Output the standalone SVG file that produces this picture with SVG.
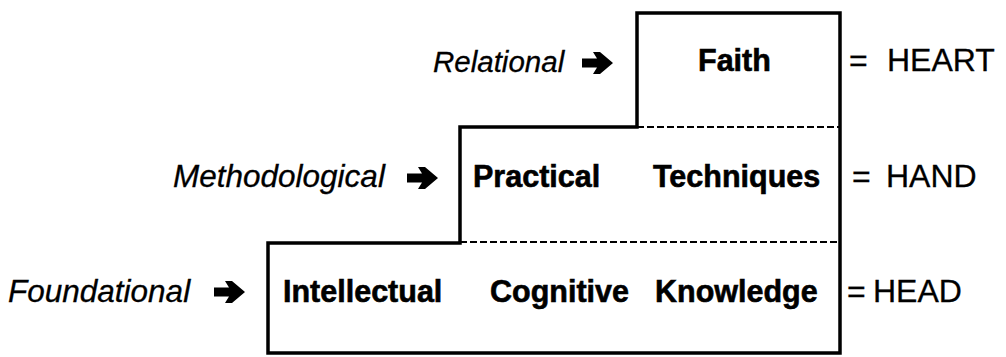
<svg xmlns="http://www.w3.org/2000/svg" width="1006" height="357" viewBox="0 0 1006 357">
<style>
.lbl{font-family:"Liberation Sans",Arial,sans-serif;font-style:italic;font-size:31.5px;fill:#000;stroke:#000;stroke-width:0.3}
.bld{font-family:"Liberation Sans",Arial,sans-serif;font-weight:bold;font-size:30.5px;fill:#000;stroke:#000;stroke-width:0.6}
.eq{font-family:"Liberation Sans",Arial,sans-serif;font-size:32px;fill:#000;stroke:#000;stroke-width:0.3}
.outline{fill:none;stroke:#000;stroke-width:3.5;stroke-linejoin:miter}
.dash{fill:none;stroke:#000;stroke-width:2.2;stroke-dasharray:7 3}
</style>
<defs>
<path id="arr" d="M0,-4.5 L15,-4.5 L11,-11 L18,-11 L31,0 L18,11 L11,11 L15,4.5 L0,4.5 Z" fill="#000"/>
</defs>
<rect width="1006" height="357" fill="#fff"/>
<g id="steps">
<path class="outline" d="M268,353 L268,243 L460,243 L460,127 L637,127 L637,13 L840,13 L840,353 Z"/>
</g>
<g id="connectors">
<line class="dash" x1="637" y1="127" x2="840" y2="127"/>
<line class="dash" x1="460" y1="242" x2="840" y2="242"/>
<use href="#arr" x="582" y="63"/>
<use href="#arr" x="407" y="178"/>
<use href="#arr" x="214" y="292"/>
</g>
<g id="relational">
<text class="lbl" x="433" y="72" style="font-size:29.5px">Relational</text>
</g>
<g id="methodological">
<text class="lbl" x="173" y="187">Methodological</text>
</g>
<g id="foundational">
<text class="lbl" x="8" y="302">Foundational</text>
</g>
<g id="faith">
<text class="bld" x="698" y="71">Faith</text>
</g>
<g id="practical">
<text class="bld" x="473" y="187">Practical</text>
<text class="bld" x="653" y="187">Techniques</text>
</g>
<g id="intellectual">
<text class="bld" x="283" y="302">Intellectual</text>
<text class="bld" x="490" y="302">Cognitive</text>
<text class="bld" x="655" y="302">Knowledge</text>
</g>
<g id="heart">
<text class="eq" y="71"><tspan x="849">=</tspan><tspan x="887">HEART</tspan></text>
</g>
<g id="hand">
<text class="eq" y="187"><tspan x="852">=</tspan><tspan x="886">HAND</tspan></text>
</g>
<g id="head">
<text class="eq" y="302"><tspan x="847">=</tspan><tspan x="873">HEAD</tspan></text>
</g>
</svg>
